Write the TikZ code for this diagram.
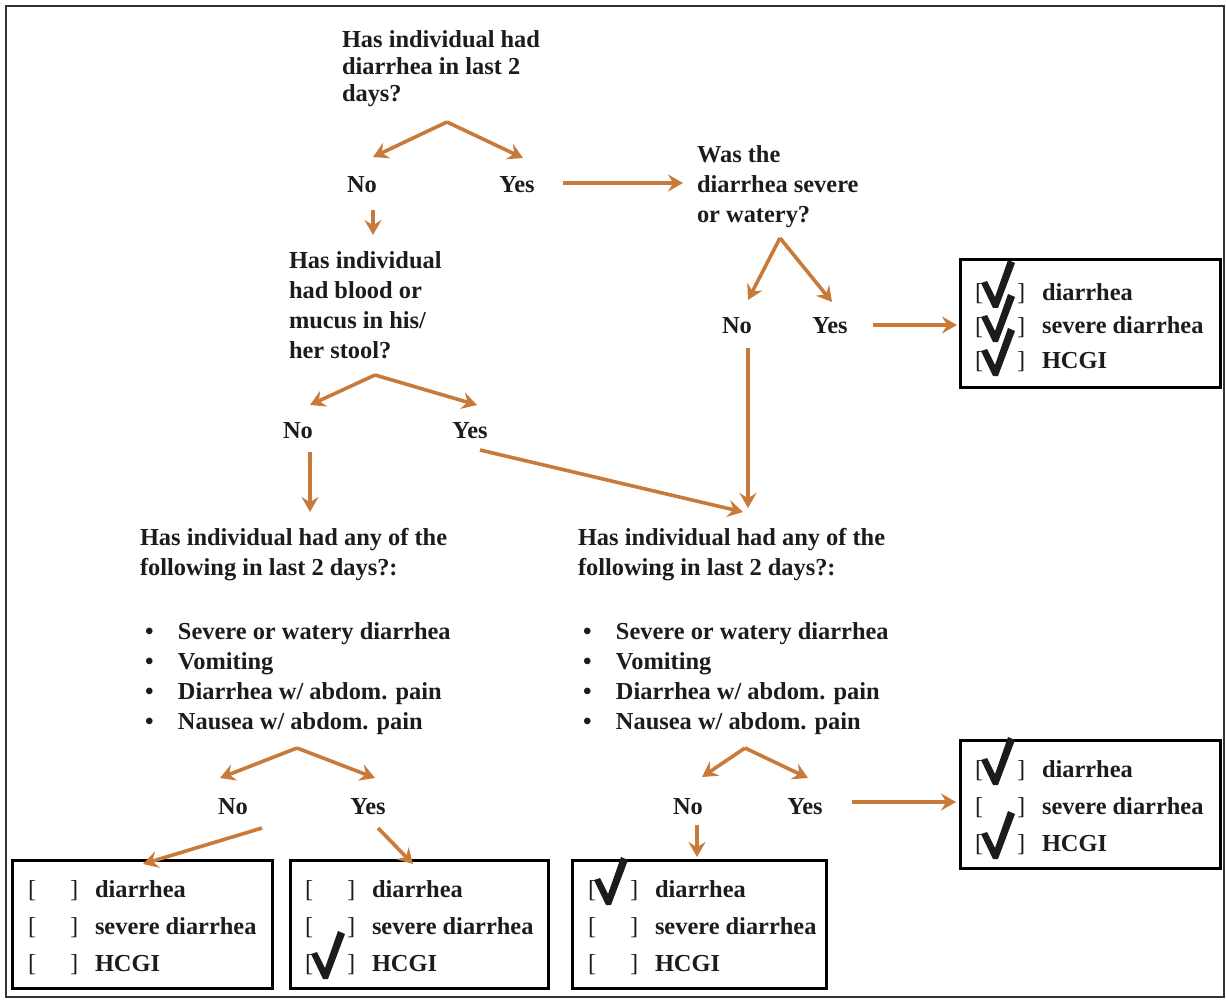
\documentclass[tikz,border=0pt]{standalone}
\usepackage{fontspec}
\setmainfont{Liberation Serif}
\usetikzlibrary{arrows.meta}
\definecolor{arrowc}{HTML}{C87A3A}
\definecolor{inkc}{HTML}{1C1C1C}
\newcommand{\bul}{\hspace*{2.5pt}\makebox[16.5pt][l]{\textbullet}}
\newcommand{\ckl}[1]{\makebox[33.5pt][l]{{\mdseries[}\hspace{17pt}{\mdseries]}}#1}
\newcommand{\fl}{\rule{0pt}{9.5pt}}
\newcommand{\drawcheck}[1]{\fill[inkc,shift={#1}] (-15,-17) -- (-9,-19) -- (-1,-3) -- (12,-40) -- (19,-37) -- (2,8) -- (-3,8) -- cycle;}
\begin{document}
\begin{tikzpicture}[x=0.5pt,y=-0.5pt,
  every node/.style={inner sep=0pt,outer sep=0pt,text=inkc},
  q/.style={anchor=north west,align=left},
  yn/.style={anchor=base,font=\fontsize{12.2}{14}\selectfont\bfseries},
  cbox/.style={draw=black,line width=1.5pt,anchor=north west},
  ctext/.style={anchor=north west,align=left},
  arr/.style={draw=arrowc,line width=1.8pt,-{Stealth[length=7.5pt,width=8.5pt,inset=2.6pt]}}]
\useasboundingbox (0,0) rectangle (1226,1000);
\draw[line width=1pt,draw=black!80] (6,6) rectangle (1224,997);

% questions
\node[q,font=\fontsize{12.2}{13.5}\selectfont\bfseries] (q1) at (342,29)
  {\fl Has individual had\\diarrhea in last 2\\days?};
\node[q,font=\fontsize{12.2}{15}\selectfont\bfseries] (q2) at (697,144)
  {\fl Was the\\diarrhea severe\\or watery?};
\node[q,font=\fontsize{12.2}{15}\selectfont\bfseries] (q3) at (289,249)
  {\fl Has individual\\had blood or\\mucus in his/\\her stool?};
\node[q,font=\fontsize{12.2}{15}\selectfont\bfseries] (q4l) at (140,526)
  {\fl Has individual had any of the\\following in last 2 days?:\\[17pt]
   \bul Severe or watery diarrhea\\\bul Vomiting\\\bul Diarrhea w/ abdom. pain\\\bul Nausea w/ abdom. pain};
\node[q,font=\fontsize{12.2}{15}\selectfont\bfseries] (q4r) at (578,526)
  {\fl Has individual had any of the\\following in last 2 days?:\\[17pt]
   \bul Severe or watery diarrhea\\\bul Vomiting\\\bul Diarrhea w/ abdom. pain\\\bul Nausea w/ abdom. pain};

% yes / no
\node[yn] (no1) at (362,193) {No};
\node[yn] (yes1) at (517,193) {Yes};
\node[yn] (no2) at (737,334) {No};
\node[yn] (yes2) at (830,334) {Yes};
\node[yn] (no3) at (298,438) {No};
\node[yn] (yes3) at (470,438) {Yes};
\node[yn] (no4l) at (233,814) {No};
\node[yn] (yes4l) at (368,814) {Yes};
\node[yn] (no4r) at (688,814) {No};
\node[yn] (yes4r) at (805,814) {Yes};

% result boxes
\node[cbox,minimum width=130pt,minimum height=63.5pt] (bTR) at (960,260) {};
\node[cbox,minimum width=130pt,minimum height=64pt] (b4) at (960,740) {};
\node[cbox,minimum width=130pt,minimum height=64pt] (b1) at (12,860) {};
\node[cbox,minimum width=129pt,minimum height=64pt] (b2) at (290,860) {};
\node[cbox,minimum width=127pt,minimum height=64pt] (b3) at (572,860) {};

\node[ctext,font=\fontsize{12.2}{17}\selectfont\bfseries] (tTR) at (975,281)
  {\fl\ckl{diarrhea}\\\ckl{severe diarrhea}\\\ckl{HCGI}};
\node[ctext,font=\fontsize{12.2}{18.5}\selectfont\bfseries] (t4) at (975,758)
  {\fl\ckl{diarrhea}\\\ckl{severe diarrhea}\\\ckl{HCGI}};
\node[ctext,font=\fontsize{12.2}{18.5}\selectfont\bfseries] (t1) at (28,878)
  {\fl\ckl{diarrhea}\\\ckl{severe diarrhea}\\\ckl{HCGI}};
\node[ctext,font=\fontsize{12.2}{18.5}\selectfont\bfseries] (t2) at (305,878)
  {\fl\ckl{diarrhea}\\\ckl{severe diarrhea}\\\ckl{HCGI}};
\node[ctext,font=\fontsize{12.2}{18.5}\selectfont\bfseries] (t3) at (588,878)
  {\fl\ckl{diarrhea}\\\ckl{severe diarrhea}\\\ckl{HCGI}};

% check marks
\drawcheck{(996,300)}
\drawcheck{(996,334)}
\drawcheck{(996,368)}
\drawcheck{(996,777)}
\drawcheck{(996,851)}
\drawcheck{(326,971)}
\drawcheck{(609,897)}

% split points
\coordinate (ap1) at (447,122);
\coordinate (ap2) at (780,238);
\coordinate (ap3) at (375,375);
\coordinate (ap4l) at (297,748);
\coordinate (ap4r) at (745,748);

% connectors
\draw[arr] (ap1) -- ([shift={(11,-36)}]no1.base);
\draw[arr] (ap1) -- ([shift={(6,-35)}]yes1.base);
\draw[arr] ([shift={(11,17)}]no1.base) -- ([shift={(84,-14)}]q3.north west);
\draw[arr] ([shift={(46,-10)}]yes1.base) -- ([shift={(-14,39)}]q2.north west);

\draw[arr] (ap2) -- ([shift={(11,-34)}]no2.base);
\draw[arr] (ap2) -- ([shift={(2,-32)}]yes2.base);
\draw[arr] ([shift={(43,-9)}]yes2.base) -- ([shift={(-3,65)}]bTR.north west);
\draw[arr] ([shift={(11,14)}]no2.base) -- ([shift={(170,-18)}]q4r.north west);

\draw[arr] (ap3) -- ([shift={(12,-33)}]no3.base);
\draw[arr] (ap3) -- ([shift={(7,-33)}]yes3.base);
\draw[arr] ([shift={(12,14)}]no3.base) -- ([shift={(170,-14)}]q4l.north west);
\draw[arr] ([shift={(10,12)}]yes3.base) -- ([shift={(165,-14)}]q4r.north west);

\draw[arr] (ap4l) -- ([shift={(-13,-36)}]no4l.base);
\draw[arr] (ap4l) -- ([shift={(7,-36)}]yes4l.base);
\draw[arr] ([shift={(29,14)}]no4l.base) -- ([shift={(131,4)}]b1.north west);
\draw[arr] ([shift={(10,14)}]yes4l.base) -- ([shift={(123,4)}]b2.north west);

\draw[arr] (ap4r) -- ([shift={(14,-37)}]no4r.base);
\draw[arr] (ap4r) -- ([shift={(3,-36)}]yes4r.base);
\draw[arr] ([shift={(9,11)}]no4r.base) -- ([shift={(125,-3)}]b3.north west);
\draw[arr] ([shift={(47,-12)}]yes4r.base) -- ([shift={(-4,62)}]b4.north west);
\end{tikzpicture}
\end{document}
